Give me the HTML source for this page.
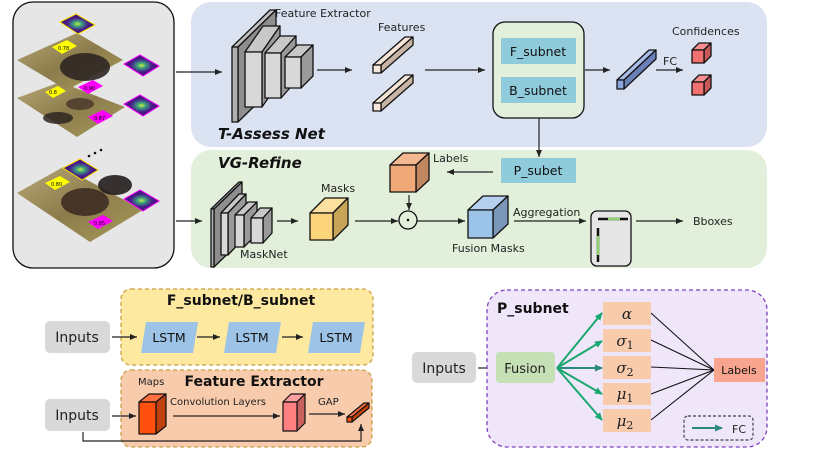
<!DOCTYPE html>
<html><head><meta charset="utf-8"><style>
body{margin:0;background:#fff}
svg{display:block;font-family:"DejaVu Sans","Liberation Sans",sans-serif}
</style></head><body>
<svg width="814" height="458" viewBox="0 0 814 458" xmlns="http://www.w3.org/2000/svg">
<defs>
<marker id="a" markerWidth="8" markerHeight="8" refX="7" refY="4" orient="auto" markerUnits="userSpaceOnUse"><path d="M0,1 L7,4 L0,7 z" fill="#222"/></marker>
<marker id="g" markerWidth="8" markerHeight="8" refX="7" refY="4" orient="auto" markerUnits="userSpaceOnUse"><path d="M0,0.5 L8,4 L0,7.5 z" fill="#1aa870"/></marker>
<marker id="t" markerWidth="8" markerHeight="8" refX="7" refY="4" orient="auto" markerUnits="userSpaceOnUse"><path d="M0,0.5 L8,4 L0,7.5 z" fill="#2a8a80"/></marker>
<linearGradient id="ph" x1="0" y1="0" x2="1" y2="1"><stop offset="0" stop-color="#b8a878"/><stop offset="0.5" stop-color="#8c7c4c"/><stop offset="1" stop-color="#a89a5a"/></linearGradient>
<radialGradient id="hm"><stop offset="0" stop-color="#c8f040"/><stop offset="0.25" stop-color="#3aa080"/><stop offset="0.6" stop-color="#4a1e8a"/><stop offset="1" stop-color="#3a0e6e"/></radialGradient>
</defs>
<rect x="13" y="2" width="161" height="266" rx="20" fill="#e6e6e6" stroke="#111" stroke-width="1.3"/>
<rect x="191" y="2" width="576" height="145" rx="20" fill="#dbe3f3"/>
<rect x="191" y="150" width="576" height="118" rx="20" fill="#e2efda"/>
<!-- images -->
<g stroke="none">
<polygon points="17,98 60,82 125,107 77,137" fill="url(#ph)"/>
<polygon points="17,60 77,33 123,60 67,90" fill="url(#ph)"/>
<ellipse cx="85" cy="67" rx="25" ry="14" fill="#2e2622" opacity="0.9"/>
<ellipse cx="80" cy="104" rx="14" ry="6" fill="#4a3a2c" opacity="0.85"/>
<ellipse cx="58" cy="118" rx="15" ry="6" fill="#2e2622" opacity="0.85"/>
<polygon points="17,193 63,167 143,210 90,242" fill="url(#ph)"/>
<ellipse cx="85" cy="202" rx="24" ry="14" fill="#3e2e24" opacity="0.9"/>
<ellipse cx="115" cy="185" rx="17" ry="10" fill="#221c1c" opacity="0.9"/>
<polygon points="60,22 76,14 95,25 78,34" fill="url(#hm)" stroke="#ffe000" stroke-width="1"/>
<polygon points="124,64 140,55 159,66 143,76" fill="url(#hm)" stroke="#ff00ff" stroke-width="1"/>
<polygon points="124,104 140,95 159,106 143,116" fill="url(#hm)" stroke="#ff00ff" stroke-width="1"/>
<polygon points="63,168 80,159 98,170 82,180" fill="url(#hm)" stroke="#ffe000" stroke-width="1"/>
<polygon points="124,199 140,190 159,201 143,211" fill="url(#hm)" stroke="#ff00ff" stroke-width="1"/>
<polygon points="52,47 67,40 77,46 62,54" fill="#ffff00"/>
<polygon points="78,87 93,80 103,86 88,94" fill="#ff00ff"/>
<polygon points="45,92 58,86 66,91 53,98" fill="#ffff00"/>
<polygon points="88,117 103,110 113,116 98,124" fill="#ff00ff"/>
<polygon points="45,183 60,176 70,182 55,190" fill="#ffff00"/>
<polygon points="88,222 103,215 113,221 98,229" fill="#ff00ff"/>
<circle cx="89" cy="156" r="1.3" fill="#111"/><circle cx="95" cy="153" r="1.3" fill="#111"/><circle cx="101" cy="150" r="1.3" fill="#111"/>
</g>
<g font-size="5" fill="#000"><text x="58" y="50">0.78</text><text x="84" y="90">0.90</text><text x="49" y="94">0.8</text><text x="94" y="120">0.87</text><text x="51" y="186">0.80</text><text x="94" y="225">0.85</text></g>
<text x="218" y="139" font-size="15" font-weight="bold" font-style="italic" fill="#111">T-Assess Net</text>
<text x="218" y="168" font-size="15" font-weight="bold" font-style="italic" fill="#111">VG-Refine</text>
<g font-size="11" fill="#222">
<text x="275" y="17">Feature Extractor</text>
<text x="378" y="31">Features</text>
<text x="672" y="35">Confidences</text>
<text x="663" y="65">FC</text>
<text x="433" y="162">Labels</text>
<text x="321" y="192">Masks</text>
<text x="240" y="258">MaskNet</text>
<text x="452" y="252">Fusion Masks</text>
<text x="513" y="216">Aggregation</text>
<text x="693" y="225">Bboxes</text>
</g>
<g stroke="#111" stroke-width="1.3" stroke-linejoin="round">
<polygon points="232,47 270,10 276,10 238,47" fill="#c0c0c0"/><polygon points="238,47 276,10 276,85 238,122" fill="#8e8e8e"/><rect x="232" y="47" width="6" height="75" fill="#b0b0b0"/>
<polygon points="245,52 263,26 280,26 262,52" fill="#c8c8c8"/><polygon points="262,52 280,26 280,81 262,107" fill="#9a9a9a"/><rect x="245" y="52" width="17" height="55" fill="#d8d8d8"/>
<polygon points="265,53 280,36 296,36 281,53" fill="#c8c8c8"/><polygon points="281,53 296,36 296,81 281,98" fill="#9a9a9a"/><rect x="265" y="53" width="16" height="45" fill="#d8d8d8"/>
<polygon points="285,57 297,45 313,45 301,57" fill="#c8c8c8"/><polygon points="301,57 313,45 313,76 301,88" fill="#9a9a9a"/><rect x="285" y="57" width="16" height="31" fill="#d8d8d8"/>
<polygon points="373,65 405,37 413,37 381,65" fill="#f4e4d8"/><polygon points="381,65 413,37 413,45 381,73" fill="#c8b4a4"/><rect x="373" y="65" width="8" height="8" fill="#f8e8dc"/>
<polygon points="373,103 405,75 413,75 381,103" fill="#f4e4d8"/><polygon points="381,103 413,75 413,83 381,111" fill="#c8b4a4"/><rect x="373" y="103" width="8" height="8" fill="#f8e8dc"/>
<polygon points="617,80 649,50 656,50 624,80" fill="#a8bce8"/><polygon points="624,80 656,50 656,59 624,89" fill="#6a80b8"/><rect x="617" y="80" width="7" height="9" fill="#8ca4dc"/>
<polygon points="692,50 699,43 711,43 704,50" fill="#f49090"/><polygon points="704,50 711,43 711,56 704,63" fill="#c85a5a"/><rect x="692" y="50" width="12" height="13" fill="#f07070"/>
<polygon points="692,82 699,75 711,75 704,82" fill="#f49090"/><polygon points="704,82 711,75 711,88 704,95" fill="#c85a5a"/><rect x="692" y="82" width="12" height="13" fill="#f07070"/>
<polygon points="390,165 403,153 429,153 416,165" fill="#f4b890"/><polygon points="416,165 429,153 429,180 416,192" fill="#c08660"/><rect x="390" y="165" width="26" height="27" fill="#f0a878"/>
<polygon points="468,210 483,196 508,196 493,210" fill="#b4d0ee"/><polygon points="493,210 508,196 508,224 493,238" fill="#7c98b8"/><rect x="468" y="210" width="25" height="28" fill="#9cc4e8"/>
<polygon points="310,213 325,198 348,198 333,213" fill="#fce0a0"/><polygon points="333,213 348,198 348,225 333,240" fill="#c8a458"/><rect x="310" y="213" width="23" height="27" fill="#fcd47c"/>
<polygon points="211,209 239,182 242,182 214,209" fill="#c0c0c0"/><polygon points="214,209 242,182 242,240 214,267" fill="#8e8e8e"/><rect x="211" y="209" width="3" height="58" fill="#b0b0b0"/>
<polygon points="221,213 239,194 246,194 228,213" fill="#c8c8c8"/><polygon points="228,213 246,194 246,236 228,255" fill="#9a9a9a"/><rect x="221" y="213" width="7" height="42" fill="#d8d8d8"/>
<polygon points="235,215 248,202 257,202 244,215" fill="#c8c8c8"/><polygon points="244,215 257,202 257,234 244,247" fill="#9a9a9a"/><rect x="235" y="215" width="9" height="32" fill="#d8d8d8"/>
<polygon points="251,218 260,208 272,208 263,218" fill="#c8c8c8"/><polygon points="263,218 272,208 272,233 263,243" fill="#9a9a9a"/><rect x="251" y="218" width="12" height="25" fill="#d8d8d8"/>
<rect x="493" y="22" width="91" height="96" rx="12" fill="#e2efda"/>
<circle cx="408" cy="220" r="9" fill="none"/>
<rect x="591" y="211" width="40" height="55" rx="6" fill="#e6e6e6"/>
</g>
<circle cx="408" cy="220" r="1.3" fill="#111"/>
<g stroke-width="2.5"><line x1="598" y1="219" x2="628" y2="219" stroke="#111"/><line x1="608" y1="219" x2="620" y2="219" stroke="#8fd070"/>
<line x1="598" y1="228" x2="598" y2="262" stroke="#111"/><line x1="598" y1="236" x2="598" y2="255" stroke="#8fd070"/></g>
<g fill="#8fcbdb"><rect x="501" y="38" width="75" height="26"/><rect x="501" y="77" width="75" height="26"/><rect x="501" y="158" width="75" height="25"/></g>
<g font-size="12.5" fill="#111" text-anchor="middle"><text x="538" y="56">F_subnet</text><text x="538" y="95">B_subnet</text><text x="538" y="175">P_subet</text></g>
<g stroke="#222" stroke-width="1.2" marker-end="url(#a)">
<line x1="176" y1="72" x2="222" y2="72"/><line x1="317" y1="70" x2="352" y2="70"/><line x1="425" y1="70" x2="485" y2="70"/>
<line x1="585" y1="70" x2="610" y2="70"/><line x1="656" y1="70" x2="683" y2="70"/><line x1="539" y1="118" x2="539" y2="157"/>
<line x1="493" y1="172" x2="447" y2="172"/><line x1="409" y1="195" x2="409" y2="210"/><line x1="417" y1="221" x2="465" y2="221"/>
<line x1="514" y1="221" x2="586" y2="221"/><line x1="636" y1="221" x2="683" y2="221"/><line x1="176" y1="221" x2="202" y2="221"/>
<line x1="277" y1="221" x2="298" y2="221"/><line x1="355" y1="221" x2="398" y2="221"/>
</g>
<rect x="121" y="289" width="252" height="76" rx="10" fill="#fde9a0" stroke="#c8a040" stroke-width="1.3" stroke-dasharray="4,3"/>
<rect x="121" y="370" width="251" height="77" rx="10" fill="#f8cbad" stroke="#c8a040" stroke-width="1.3" stroke-dasharray="4,3"/>
<text x="241" y="305" font-size="14" font-weight="bold" text-anchor="middle" fill="#111">F_subnet/B_subnet</text>
<text x="254" y="386" font-size="14" font-weight="bold" text-anchor="middle" fill="#111">Feature Extractor</text>
<g fill="#d9d9d9"><rect x="45" y="321" width="65" height="32" rx="5"/><rect x="45" y="399" width="65" height="32" rx="5"/><rect x="412" y="352" width="64" height="31" rx="5"/></g>
<g font-size="14" fill="#222" text-anchor="middle"><text x="77" y="342">Inputs</text><text x="77" y="420">Inputs</text><text x="444" y="373">Inputs</text></g>
<g fill="#9dc3e6"><polygon points="146,322 198,322 193,353 141,353"/><polygon points="229,322 281,322 276,353 224,353"/><polygon points="313,322 365,322 360,353 308,353"/></g>
<g font-size="12.5" fill="#111" text-anchor="middle"><text x="169" y="342">LSTM</text><text x="252" y="342">LSTM</text><text x="336" y="342">LSTM</text></g>
<g font-size="10" fill="#222"><text x="138" y="385">Maps</text><text x="170" y="405">Convolution Layers</text><text x="318" y="405">GAP</text></g>
<g stroke="#111" stroke-width="1.2" stroke-linejoin="round">
<polygon points="139,402 149,394 166,394 156,402" fill="#ff7040"/><polygon points="156,402 166,394 166,426 156,434" fill="#c04010"/><rect x="139" y="402" width="17" height="32" fill="#ff5010"/>
<polygon points="283,402 291,394 305,394 297,402" fill="#ffa0a0"/><polygon points="297,402 305,394 305,423 297,431" fill="#c86060"/><rect x="283" y="402" width="14" height="29" fill="#ff8080"/>
<polygon points="347,417 364,403 369,403 352,417" fill="#ff7040"/><polygon points="352,417 369,403 369,408 352,422" fill="#c04010"/><rect x="347" y="417" width="5" height="5" fill="#ff5010"/>
</g>
<g stroke="#222" stroke-width="1.2" marker-end="url(#a)" fill="none">
<line x1="112" y1="337" x2="137" y2="337"/><line x1="197" y1="337" x2="220" y2="337"/><line x1="282" y1="337" x2="303" y2="337"/>
<line x1="112" y1="416" x2="136" y2="416"/><line x1="173" y1="416" x2="280" y2="416"/><line x1="309" y1="414" x2="345" y2="414"/>
<polyline points="83,432 83,441 361,441 361,424"/>
<line x1="478" y1="368" x2="494" y2="368"/>
</g>
<rect x="487" y="290" width="280" height="157" rx="20" fill="#f0e6fa" stroke="#8040c0" stroke-width="1.3" stroke-dasharray="4,3"/>
<text x="497" y="313" font-size="14" font-weight="bold" fill="#111">P_subnet</text>
<rect x="496" y="352" width="59" height="31" rx="4" fill="#c5e0b4"/>
<text x="525" y="373" font-size="13" text-anchor="middle" fill="#222">Fusion</text>
<g stroke="#111" stroke-width="1.1">
<line x1="651" y1="313" x2="714" y2="370"/><line x1="651" y1="340" x2="714" y2="370"/><line x1="651" y1="367" x2="714" y2="370"/><line x1="651" y1="394" x2="714" y2="370"/><line x1="651" y1="420" x2="714" y2="370"/>
</g>
<g stroke-width="2" fill="none">
<line x1="557" y1="368" x2="602" y2="313" stroke="#1aa870" marker-end="url(#g)"/>
<line x1="557" y1="368" x2="602" y2="341" stroke="#1aa870" marker-end="url(#g)"/>
<line x1="557" y1="368" x2="602" y2="368" stroke="#2a8a80" marker-end="url(#t)"/>
<line x1="557" y1="368" x2="602" y2="394" stroke="#1aa870" marker-end="url(#g)"/>
<line x1="557" y1="368" x2="602" y2="420" stroke="#1aa870" marker-end="url(#g)"/>
</g>
<g fill="#f8cbad"><rect x="603" y="302" width="48" height="23"/><rect x="603" y="329" width="48" height="23"/><rect x="603" y="356" width="48" height="23"/><rect x="603" y="383" width="48" height="22"/><rect x="603" y="409" width="48" height="23"/></g>
<g font-family="'DejaVu Serif','Liberation Serif',serif" font-style="italic" font-size="15" fill="#222" text-anchor="middle">
<text x="627" y="319">α</text><text x="625" y="346">σ<tspan font-style="normal" font-size="11" dy="3">1</tspan></text><text x="625" y="373">σ<tspan font-style="normal" font-size="11" dy="3">2</tspan></text><text x="625" y="399">μ<tspan font-style="normal" font-size="11" dy="3">1</tspan></text><text x="625" y="426">μ<tspan font-style="normal" font-size="11" dy="3">2</tspan></text>
</g>
<rect x="714" y="358" width="51" height="24" fill="#f8a58f"/>
<text x="739" y="374" font-size="11" text-anchor="middle" fill="#111">Labels</text>
<rect x="684" y="416" width="69" height="24" rx="4" fill="none" stroke="#444" stroke-width="1.2" stroke-dasharray="3,2"/>
<line x1="692" y1="428" x2="722" y2="428" stroke="#2a8a80" stroke-width="2" marker-end="url(#t)"/>
<text x="732" y="433" font-size="11" fill="#222">FC</text>
</svg>
</body></html>
